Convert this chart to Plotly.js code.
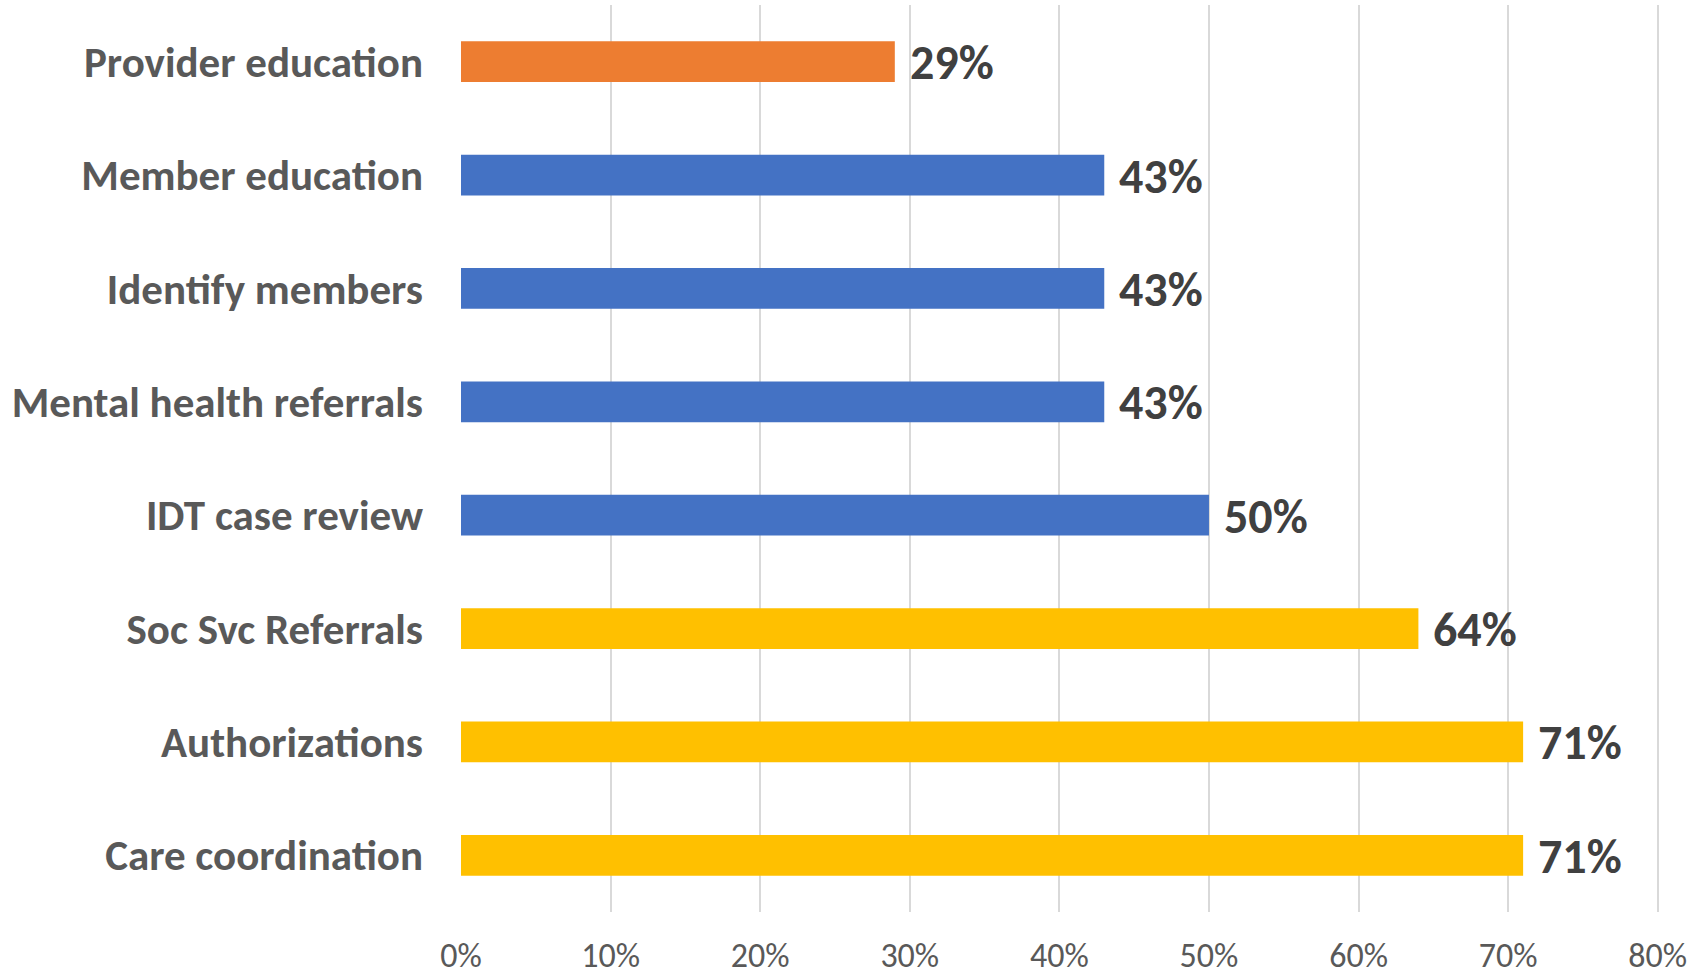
<!DOCTYPE html>
<html>
<head>
<meta charset="utf-8">
<script src="https://cdn.plot.ly/plotly-3.0.1.min.js"></script>
<style>
  html, body { margin: 0; padding: 0; background: #ffffff; }
  #chart { width: 1707px; height: 977px; }
</style>
</head>
<body>
<div id="chart"></div>
<script>
// Categories listed top to bottom as shown in the chart
const categories = [
  "Provider education",
  "Member education",
  "Identify members",
  "Mental health referrals",
  "IDT case review",
  "Soc Svc Referrals",
  "Authorizations",
  "Care coordination"
];
const values = [0.29, 0.43, 0.43, 0.43, 0.50, 0.64, 0.71, 0.71];
const tickValues = [0, 0.1, 0.2, 0.3, 0.4, 0.5, 0.6, 0.7, 0.8];
const tickLabels = ["0%", "10%", "20%", "30%", "40%", "50%", "60%", "70%", "80%"];

// Styling
const barColors = ["#ED7D31", "#4472C4", "#4472C4", "#4472C4", "#4472C4", "#FFC000", "#FFC000", "#FFC000"];
const FONT = "Calibri, Carlito, Lato, sans-serif";

const trace = {
  type: "bar",
  orientation: "h",
  x: values,
  y: categories,
  marker: { color: barColors, line: { width: 0 } },
  hoverinfo: "x+y"
};

const annotations = values.map((v, i) => ({
  x: v,
  y: categories[i],
  xref: "x",
  yref: "y",
  text: Math.round(v * 100) + "%",
  showarrow: false,
  xanchor: "left",
  yanchor: "middle",
  xshift: 13,
  yshift: -1,
  font: { family: FONT, size: 48, color: "#404040", weight: "bold" }
}));

const layout = {
  width: 1707,
  height: 977,
  margin: { l: 461, r: 47, t: 5, b: 65 },
  paper_bgcolor: "#ffffff",
  plot_bgcolor: "#ffffff",
  showlegend: false,
  bargap: 0.64,
  xaxis: {
    range: [0, 0.8015],
    tickvals: tickValues,
    ticktext: tickLabels,
    showgrid: true,
    gridcolor: "#D9D9D9",
    gridwidth: 2,
    zeroline: false,
    showline: false,
    ticks: "",
    ticklabelstandoff: 20,
    tickfont: { family: FONT, size: 34, color: "#595959" },
    fixedrange: true
  },
  yaxis: {
    type: "category",
    autorange: "reversed",
    showgrid: false,
    zeroline: false,
    showline: false,
    ticks: "",
    ticklabelstandoff: 37,
    tickfont: { family: FONT, size: 43, color: "#595959", weight: "bold" },
    fixedrange: true
  },
  annotations: annotations
};

Plotly.newPlot("chart", [trace], layout, { displayModeBar: false, staticPlot: true });
</script>
</body>
</html>
